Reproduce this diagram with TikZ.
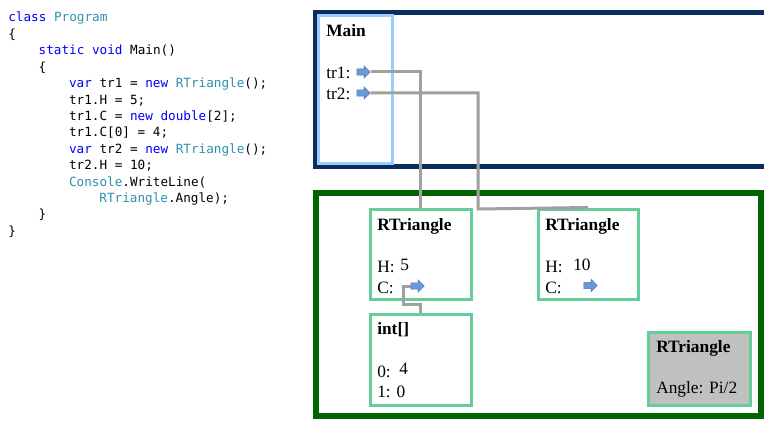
\documentclass[tikz,border=0pt]{standalone}
\usepackage{fontspec}
\setmainfont{Liberation Serif}
\setmonofont{DejaVu Sans Mono}
\usetikzlibrary{shapes.arrows,fit}

\definecolor{kw}{HTML}{0000FF}
\definecolor{ty}{HTML}{2B91AF}
\definecolor{navy}{HTML}{0B2D5E}
\definecolor{forest}{HTML}{006400}
\definecolor{mint}{HTML}{66CC99}
\definecolor{sky}{HTML}{99CCFF}
\definecolor{wiregray}{HTML}{A0A0A0}
\definecolor{staticgray}{HTML}{C0C0C0}
\definecolor{arrowfill}{HTML}{6A9AD6}
\definecolor{arrowline}{HTML}{4A78B8}

\pgfdeclarelayer{back}
\pgfdeclarelayer{mid}
\pgfsetlayers{back,mid,main}

\begin{document}
\begin{tikzpicture}[x=0.75pt,y=-0.75pt,
  code/.style={anchor=base west, inner sep=0pt, font=\ttfamily\fontsize{9.5}{11}\selectfont},
  lbl/.style={anchor=base west, inner sep=0pt, font=\fontsize{13}{15}\selectfont},
  title/.style={anchor=base west, inner sep=0pt, font=\bfseries\fontsize{13}{15}\selectfont},
  gbox/.style={draw=mint, line width=2.25pt, inner sep=0pt},
  ref/.style={single arrow, draw=arrowline, fill=arrowfill, line width=0.5pt,
              inner sep=2.1pt, minimum height=10pt, single arrow head extend=2.2pt},
  wire/.style={draw=wiregray, line width=2.25pt}
]
\useasboundingbox (0,0) rectangle (780,431);

% ---- source code ----
\node[code] (c0)  at (8,22)      {\textcolor{kw}{class} \textcolor{ty}{Program}};
\node[code] (c1)  at (8,38.4)    {\{};
\node[code] (c2)  at (38.4,54.8) {\textcolor{kw}{static} \textcolor{kw}{void} Main()};
\node[code] (c3)  at (38.4,71.2) {\{};
\node[code] (c4)  at (68.8,87.6) {\textcolor{kw}{var} tr1 = \textcolor{kw}{new} \textcolor{ty}{RTriangle}();};
\node[code] (c5)  at (68.8,104)  {tr1.H = 5;};
\node[code] (c6)  at (68.8,120.4){tr1.C = \textcolor{kw}{new} \textcolor{kw}{double}[2];};
\node[code] (c7)  at (68.8,136.8){tr1.C[0] = 4;};
\node[code] (c8)  at (68.8,153.2){\textcolor{kw}{var} tr2 = \textcolor{kw}{new} \textcolor{ty}{RTriangle}();};
\node[code] (c9)  at (68.8,169.6){tr2.H = 10;};
\node[code] (c10) at (68.8,186)  {\textcolor{ty}{Console}.WriteLine(};
\node[code] (c11) at (99.2,202.4){\textcolor{ty}{RTriangle}.Angle);};
\node[code] (c12) at (38.4,218.8){\}};
\node[code] (c13) at (8,235.2)   {\}};

\begin{pgfonlayer}{back}
% ---- stack and heap frames ----
\draw[navy, line width=3.75pt] (764,13) -- (315,13) -- (315,166) -- (764,166);
\draw[forest, line width=4pt] (316,193) rectangle (761,416);
% ---- Main frame and heap objects ----
\node[draw=sky, line width=2.25pt, inner sep=0pt, fit={(318.5,16) (392,163)}] (mainbox) {};
\node[gbox, fit={(370,209) (471,299)}] (b1) {};
\node[gbox, fit={(538,209) (638,299)}] (b2) {};
\node[gbox, fit={(370,314) (471,405)}] (bi) {};
\node[gbox, fill=staticgray, fit={(648,332) (750,405)}] (bs) {};
\end{pgfonlayer}

\node[title] (tmain) at (326,37) {Main};
\node[lbl] (ttr1) at (326,79) {tr1:};
\node[lbl] (ttr2) at (326,100) {tr2:};

\node[title] (b1t) at (377,230) {RTriangle};
\node[lbl] (b1h) at (377,272) {H:};
\node[lbl] (b1hv) at (400,270) {5};
\node[lbl] (b1c) at (377,293) {C:};

\node[title] (b2t) at (545,230) {RTriangle};
\node[lbl] (b2h) at (545,272) {H:};
\node[lbl] (b2hv) at (573,270) {10};
\node[lbl] (b2c) at (545,293) {C:};

\node[title] (bit) at (377,334) {int[]};
\node[lbl] (bi0) at (377,377) {0:};
\node[lbl] (bi0v) at (399,374) {4};
\node[lbl] (bi1) at (377,397) {1: 0};

\node[title] (bst) at (656,352) {RTriangle};
\node[lbl] (bsa) at (656,393) {Angle: Pi/2};

% ---- reference arrows ----
\node[ref] (p1) at (362,72) {};
\node[ref] (p2) at (362,93) {};
\node[ref] (pc1) at (416,286) {};
\node[ref] (pc2) at (589,285.5) {};

% ---- references, under the arrows ----
\coordinate (k2) at (478,209);
\coordinate (k3) at (403,304);
\begin{pgfonlayer}{mid}
\draw[wire] (p1.east) -| (b1.north);
\draw[wire] (p2.east) -| (k2) -- (b2.north);
\draw[wire] (bi.north) |- (k3) |- (pc1.center);
\end{pgfonlayer}
\end{tikzpicture}
\end{document}
